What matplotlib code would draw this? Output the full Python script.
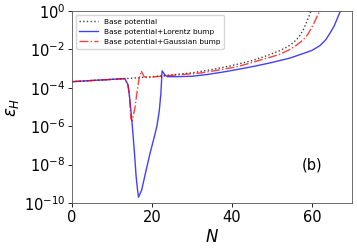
import numpy as np
import matplotlib
matplotlib.use("Agg")
import matplotlib.pyplot as plt

# base potential (N, log10 eps_H)
N_base = [0, 5, 10, 15, 20, 25, 30, 35, 40, 42, 45, 48, 50, 52, 54, 55, 56, 57, 58, 58.5, 59, 59.4, 59.8]
log_base = [-3.68, -3.62, -3.56, -3.5, -3.42, -3.33, -3.22, -3.05, -2.84, -2.74, -2.58, -2.38, -2.22,
            -2.06, -1.85, -1.7, -1.52, -1.27, -0.9, -0.65, -0.4, -0.2, 0.05]

# base + Lorentz bump
N_lor = [0, 5, 10, 13.2, 14.0, 14.4, 14.8, 15.1, 15.6, 16.0, 16.3, 16.6, 17.4, 18.5, 19.5, 20.5,
         21.2, 21.8, 22.2, 22.5, 23.2, 23.8, 26, 30, 34, 38, 42, 46, 50, 54.5, 58, 60, 62, 63.5,
         64.5, 65.5, 66.2, 66.7, 67.2]
log_lor = [-3.68, -3.62, -3.56, -3.52, -3.85, -4.55, -5.4, -6.1, -7.4, -8.6, -9.2, -9.7, -9.32, -8.3,
           -7.4, -6.6, -6.0, -5.2, -4.3, -3.12, -3.33, -3.42, -3.42, -3.4, -3.3, -3.17, -3.02, -2.86,
           -2.68, -2.45, -2.2, -2.05, -1.8, -1.48, -1.15, -0.8, -0.45, -0.2, 0.05]

# base + Gaussian bump
N_gau = [0, 5, 10, 13.0, 13.8, 14.25, 14.5, 14.7, 15.0, 15.7, 16.25, 16.75, 17.3, 18.0, 19.0, 22,
         26, 30, 32, 36, 40, 42, 46, 50, 52, 54.5, 56, 57.5, 58.25, 59, 59.8, 60.3, 61, 61.5, 62.0]
log_gau = [-3.68, -3.62, -3.56, -3.52, -3.77, -4.2, -4.9, -5.6, -5.73, -5.07, -4.2, -3.5, -3.12,
           -3.42, -3.47, -3.4, -3.33, -3.27, -3.23, -3.1, -2.95, -2.86, -2.62, -2.38, -2.25, -2.0,
           -1.8, -1.55, -1.4, -1.2, -0.9, -0.71, -0.4, -0.18, 0.05]

fig = plt.figure(figsize=(3.57, 2.5), dpi=100)
ax = fig.add_axes([0.202, 0.188, 0.784, 0.768])

ax.plot(N_base, 10.0 ** np.array(log_base), 'k:', lw=1, alpha=0.75, label='Base potential')
ax.plot(N_lor, 10.0 ** np.array(log_lor), 'b-', lw=1, alpha=0.75, label='Base potential+Lorentz bump')
ax.plot(N_gau, 10.0 ** np.array(log_gau), 'r-.', lw=1, alpha=0.75, label='Base potential+Gaussian bump')

ax.set_yscale('log')
ax.set_xlim(0, 70)
ax.set_ylim(1e-10, 1e0)
ax.set_xticks([0, 20, 40, 60])
ax.set_yticks([1e-10, 1e-8, 1e-6, 1e-4, 1e-2, 1e0])
ax.minorticks_off()
ax.tick_params(labelsize=10.5, length=3, width=0.6, pad=2)
for s in ax.spines.values():
    s.set_linewidth(0.6)
    s.set_color('#555555')

ax.set_xlabel(r'$N$', fontsize=12, labelpad=2)
ax.set_ylabel(r'$\varepsilon_H$', fontsize=12, labelpad=2)
ax.text(60, 1e-8, '(b)', fontsize=10.5, ha='center', va='center')

ax.legend(loc='upper left', fontsize=5.3, frameon=True, handlelength=2.5,
          borderpad=0.5, labelspacing=0.55, framealpha=0.8)

fig.savefig('out.png', dpi=100)
